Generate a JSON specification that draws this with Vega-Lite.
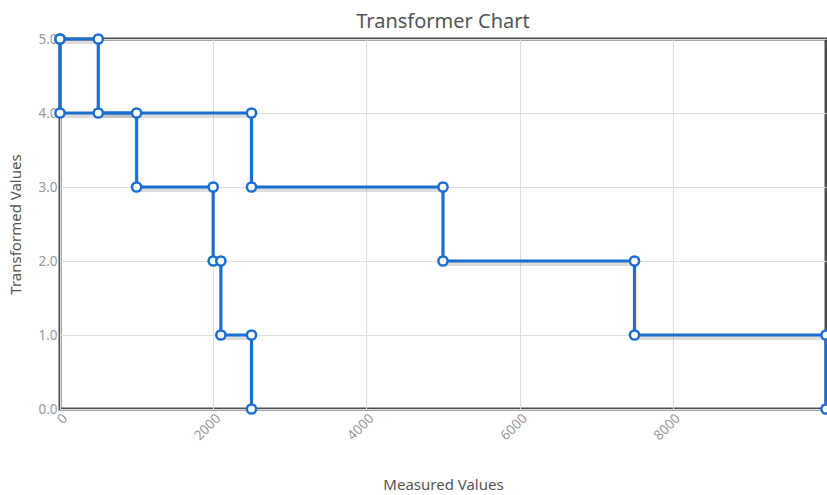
{
  "$schema": "https://vega.github.io/schema/vega-lite/v6.json",
  "width": 766,
  "height": 370,
  "autosize": {"type": "none"},
  "padding": {"left": 60, "top": 39, "right": 1, "bottom": 86},
  "background": "white",
  "title": {"text": "Transformer Chart", "fontSize": 20, "fontWeight": "normal", "color": "#555555", "font": "Noto Sans", "offset": -3},
  "config": {
    "view": {"stroke": "#4d4d4d", "strokeWidth": 3},
    "axis": {"labelFont": "Noto Sans", "titleFont": "Noto Sans", "labelColor": "#999999", "labelFontSize": 13.5, "titleColor": "#555555", "titleFontSize": 15, "titleFontWeight": "normal", "gridColor": "#dddddd", "domain": false, "ticks": false}
  },
  "data": {"values": [
    {"s": "A", "i": 0, "x": 0, "y": 5},
    {"s": "A", "i": 1, "x": 500, "y": 5},
    {"s": "A", "i": 2, "x": 500, "y": 4},
    {"s": "A", "i": 3, "x": 1000, "y": 4},
    {"s": "A", "i": 4, "x": 1000, "y": 3},
    {"s": "A", "i": 5, "x": 2000, "y": 3},
    {"s": "A", "i": 6, "x": 2000, "y": 2},
    {"s": "A", "i": 7, "x": 2100, "y": 2},
    {"s": "A", "i": 8, "x": 2100, "y": 1},
    {"s": "A", "i": 9, "x": 2500, "y": 1},
    {"s": "A", "i": 10, "x": 2500, "y": 0},
    {"s": "B", "i": 0, "x": 0, "y": 5},
    {"s": "B", "i": 1, "x": 0, "y": 4},
    {"s": "B", "i": 2, "x": 2500, "y": 4},
    {"s": "B", "i": 3, "x": 2500, "y": 3},
    {"s": "B", "i": 4, "x": 5000, "y": 3},
    {"s": "B", "i": 5, "x": 5000, "y": 2},
    {"s": "B", "i": 6, "x": 7500, "y": 2},
    {"s": "B", "i": 7, "x": 7500, "y": 1},
    {"s": "B", "i": 8, "x": 10000, "y": 1},
    {"s": "B", "i": 9, "x": 10000, "y": 0}
  ]},
  "encoding": {
    "x": {"field": "x", "type": "quantitative", "scale": {"domain": [0, 10000], "nice": false}, "axis": {"title": "Measured Values", "values": [0, 2000, 4000, 6000, 8000], "labelAngle": -45, "labelAlign": "right", "labelBaseline": "top", "labelPadding": 2, "titleY": 68, "format": "d"}},
    "y": {"field": "y", "type": "quantitative", "scale": {"domain": [0, 5], "nice": false}, "axis": {"title": "Transformed Values", "values": [0, 1, 2, 3, 4, 5], "format": ".1f", "labelPadding": 3, "titleX": -37}},
    "detail": {"field": "s"},
    "order": {"field": "i"}
  },
  "layer": [
    {"mark": {"type": "line", "stroke": "#777777", "strokeWidth": 4, "opacity": 0.25, "yOffset": 3, "clip": false}},
    {"mark": {"type": "line", "stroke": "#1a6fd1", "strokeWidth": 3, "clip": false}},
    {"mark": {"type": "point", "shape": "circle", "filled": true, "fill": "white", "stroke": "#1a6fd1", "strokeWidth": 2.5, "size": 85, "opacity": 1, "clip": false}}
  ]
}
